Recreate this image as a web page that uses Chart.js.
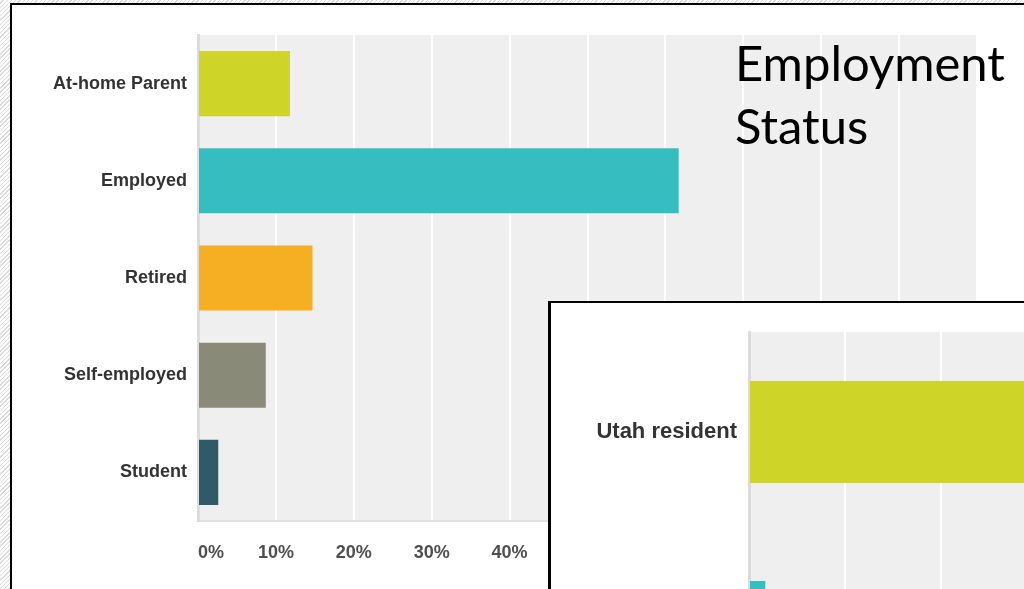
<!DOCTYPE html>
<html>
<head>
<meta charset="utf-8">
<script src="https://cdn.jsdelivr.net/npm/chart.js@4/dist/chart.umd.min.js"></script>
<style>
  html, body { margin: 0; padding: 0; }
  body {
    position: relative;
    width: 1024px;
    height: 589px;
    overflow: hidden;
    background: repeating-linear-gradient(135deg, #ffffff 0px, #ffffff 2px, #d9d9d9 2px, #d9d9d9 3px);
  }
  .slide {
    position: absolute;
    left: 10px;
    top: 3px;
    width: 1100px;
    height: 700px;
    background: #fff;
    border-left: 2px solid #000;
    border-top: 2px solid #000;
  }
  #statusChart { position: absolute; left: 0; top: 0; }
  .title {
    position: absolute;
    left: 735px;
    top: 31px;
    font-family: Lato, "Open Sans", sans-serif;
    font-size: 49px;
    line-height: 63px;
    color: #000;
    white-space: nowrap;
  }
  .inset {
    position: absolute;
    left: 548px;
    top: 301px;
    width: 1200px;
    height: 520px;
    background: #fff;
    border-left: 3px solid #000;
    border-top: 2px solid #000;
  }
  #residencyChart { position: absolute; left: 0; top: 0; }
</style>
</head>
<body>
<div class="slide"></div>
<canvas id="statusChart" width="1024" height="589"></canvas>
<div class="title">Employment<br>Status</div>
<div class="inset">
  <canvas id="residencyChart" width="1200" height="499"></canvas>
</div>

<script>
// employment status, share of respondents (%)
const statusLabels = ['At-home Parent', 'Employed', 'Retired', 'Self-employed', 'Student'];
const statusShares = [11.8, 61.7, 14.7, 8.7, 2.6];
const statusColors = ['#cfd428', '#35bdbf', '#f6ae22', '#8a8a79', '#2f5a68'];

// residency, share of respondents (%)
const residencyLabels = ['Utah resident', 'Not a Utah resident'];
const residencyShares = [98.3, 1.7];
const residencyColors = ['#cfd428', '#35bdbf'];

const percentTicks = [0, 10, 20, 30, 40, 50, 60, 70, 80, 90, 100];

// grey panel behind the bars
const plotBackground = {
  id: 'plotBackground',
  beforeDraw(chart, args, opts) {
    const { ctx, chartArea: a } = chart;
    ctx.save();
    ctx.fillStyle = opts.color;
    ctx.fillRect(a.left, a.top, a.width, a.height);
    ctx.restore();
  }
};

const makeBarChart = (canvas, cfg) => {
  return new Chart(canvas, {
    type: 'bar',
    data: {
      labels: cfg.labels,
      datasets: [{
        data: cfg.values,
        backgroundColor: cfg.colors,
        borderWidth: 0,
        categoryPercentage: 1,
        barPercentage: cfg.barPercentage
      }]
    },
    plugins: [plotBackground],
    options: {
      indexAxis: 'y',
      responsive: false,
      animation: false,
      layout: { padding: cfg.padding },
      plugins: {
        legend: { display: false },
        tooltip: { enabled: false },
        plotBackground: { color: '#efefef' }
      },
      scales: {
        x: {
          min: 0,
          max: 100,
          afterBuildTicks: scale => {
            scale.ticks = percentTicks.map(v => ({ value: v }));
          },
          afterFit: scale => { scale.height = cfg.xHeight; },
          grid: { color: '#ffffff', lineWidth: 2, drawTicks: false },
          border: { display: true, color: '#e0e0e0', width: 2 },
          ticks: {
            align: 'inner',
            padding: cfg.xTickPadding,
            color: '#4f4f4f',
            font: { family: 'Liberation Sans, Arial, sans-serif', size: cfg.tickSize, weight: 'bold' },
            callback: v => v + '%'
          }
        },
        y: {
          afterFit: scale => { scale.width = cfg.yWidth; },
          grid: { display: false, drawTicks: false },
          border: { display: true, color: '#dcdcdc', width: 3 },
          ticks: {
            padding: cfg.yTickPadding,
            color: '#333',
            font: { family: 'Liberation Sans, Arial, sans-serif', size: cfg.labelSize, weight: 'bold' }
          }
        }
      }
    }
  });
};

makeBarChart(document.getElementById('statusChart'), {
  labels: statusLabels,
  values: statusShares,
  colors: statusColors,
  barPercentage: 0.67,
  padding: { top: 35, right: 47, left: 0, bottom: 0 },
  xHeight: 68,
  yWidth: 198,
  xTickPadding: 21,
  yTickPadding: 11,
  tickSize: 18,
  labelSize: 18
});

makeBarChart(document.getElementById('residencyChart'), {
  labels: residencyLabels,
  values: residencyShares,
  colors: residencyColors,
  barPercentage: 0.51,
  padding: { top: 29, right: 42, left: 0, bottom: 0 },
  xHeight: 70,
  yWidth: 198,
  xTickPadding: 24,
  yTickPadding: 12,
  tickSize: 20,
  labelSize: 22
});
</script>
</body>
</html>
